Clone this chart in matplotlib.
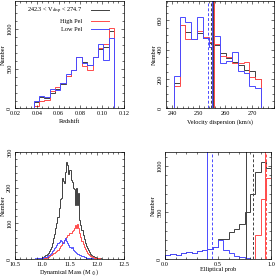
import numpy as np
import matplotlib
matplotlib.use('Agg')
import matplotlib.pyplot as plt
from matplotlib.ticker import MultipleLocator
from matplotlib.lines import Line2D

plt.rcParams['font.family'] = ['Liberation Serif', 'DejaVu Serif']
plt.rcParams['mathtext.fontset'] = 'stix'

# colours of the three samples
c_all, c_high, c_low = '#404040', '#ff4a4a', '#4a4aff'

# --- redshift (15 bins) ---
z_lo, z_hi = 0.037, 0.111
z_all = [80, 150, 128, 200, 250, 313, 408, 483, 645, 590, 545, 641, 748, 768, 975]
z_high = [35, 95, 110, 221, 270, 325, 408, 479, 645, 530, 480, 641, 760, 814, 1008]
z_low = [95, 155, 138, 250, 233, 325, 429, 479, 645, 570, 550, 641, 814, 608, 891]

# --- velocity dispersion (15 bins) ---
v_lo, v_hi = 240.6, 273.3
v_all = [171, 566, 520, 475, 513, 479, 445, 429, 376, 342, 319, 297, 262, 256, 199]
v_high = [153, 566, 475, 475, 525, 484, 449, 440, 358, 349, 308, 308, 319, 217, 199]
v_low = [224, 620, 586, 472, 620, 479, 417, 490, 308, 324, 381, 256, 244, 150, 140]
v_mean = {'all': 255.3, 'high': 255.8, 'low': 254.9}
v_median = {'all': 254.4, 'high': 255.6, 'low': 253.3}

# --- dynamical mass (bins of 0.02 from 10.80) ---
m_lo, m_step = 10.80, 0.02
m_all = [0, 0, 1, 0, 1, 1, 2, 1, 3, 4, 5, 6, 8, 11, 14, 16, 22, 27, 35, 46,
         58, 70, 86, 100, 118, 142, 168, 170, 226, 218, 212, 245, 273, 262, 238, 250, 222, 215, 200, 196,
         152, 198, 150, 185, 108, 95, 80, 66, 56, 45, 37, 30, 24, 19, 15, 12, 9, 7, 6, 4,
         4, 3, 2, 2, 1, 1, 1, 0, 1, 0, 0, 0, 0, 0, 0]
m_high = [0, 0, 0, 0, 0, 0, 0, 0, 1, 1, 2, 2, 3, 4, 5, 6, 8, 10, 12, 14,
          16, 18, 20, 22, 26, 32, 36, 40, 44, 48, 52, 58, 62, 66, 68, 72, 74, 78, 82, 88,
          95, 86, 98, 88, 72, 62, 50, 42, 35, 28, 22, 18, 14, 11, 9, 7, 6, 5, 4, 3,
          3, 2, 2, 1, 1, 1, 1, 0, 1, 0, 0, 0, 0, 0, 0]
m_low = [0, 1, 1, 2, 1, 2, 2, 3, 3, 4, 4, 5, 6, 6, 8, 10, 12, 15, 18, 22,
         26, 30, 34, 38, 44, 48, 54, 50, 46, 44, 52, 58, 50, 46, 40, 34, 30, 35, 26, 22,
         20, 16, 14, 13, 11, 10, 8, 7, 6, 5, 4, 4, 3, 3, 2, 2, 2, 1, 1, 1,
         1, 0, 0, 0, 0, 0, 0, 0, 0, 0, 0, 0, 0, 0, 0]

# --- elliptical probability (20 bins of 0.05) ---
e_low = [42, 49, 42, 60, 78, 67, 88, 102, 110, 131, 201, 102, 60, 32, 18, 7, 3, 1, 0, 0]
e_all = [42, 49, 42, 60, 78, 67, 88, 102, 110, 131, 219, 219, 290, 325, 378, 500, 699, 929, 1043, 972]
e_high = [0, 0, 0, 0, 0, 0, 0, 0, 0, 0, 0, 0, 0, 0, 0, 0, 0, 255, 645, 870]
e_mean = {'all': 0.763, 'high': 0.945, 'low': 0.40}
e_median = {'all': 0.83, 'high': 0.955, 'low': 0.44}

fs = 4.5
lw = 0.7
fig = plt.figure(figsize=(2.75, 2.76), dpi=100)
ax1 = fig.add_axes([0.0545, 0.607, 0.396, 0.389])
ax2 = fig.add_axes([0.6036, 0.607, 0.391, 0.389])
ax3 = fig.add_axes([0.0545, 0.0616, 0.396, 0.388])
ax4 = fig.add_axes([0.600, 0.0616, 0.386, 0.388])


def style(ax, xmaj, xmin, ymaj, ymin):
    ax.xaxis.set_major_locator(MultipleLocator(xmaj))
    ax.xaxis.set_minor_locator(MultipleLocator(xmin))
    ax.yaxis.set_major_locator(MultipleLocator(ymaj))
    ax.yaxis.set_minor_locator(MultipleLocator(ymin))
    ax.tick_params(which='both', direction='in', top=True, right=True,
                   width=0.4, labelsize=fs, pad=2)
    ax.tick_params(which='major', length=2.4)
    ax.tick_params(which='minor', length=1.2)
    for s in ax.spines.values():
        s.set_linewidth(0.5)
    plt.setp(ax.get_yticklabels(), rotation=90, va='center')
    ax.set_ylabel('Number', fontsize=fs, labelpad=1)


def hists(ax, edges, a, h, l):
    ax.stairs(a, edges, color=c_all, lw=lw)
    ax.stairs(h, edges, color=c_high, lw=lw)
    ax.stairs(l, edges, color=c_low, lw=lw)


# redshift
hists(ax1, np.linspace(z_lo, z_hi, len(z_all) + 1), z_all, z_high, z_low)
ax1.set_xlim(0.02, 0.12)
ax1.set_ylim(0, 1350)
style(ax1, 0.02, 0.005, 500, 100)
ax1.set_xlabel('Redshift', fontsize=fs, labelpad=2)
handles = [Line2D([], [], color=c, lw=lw) for c in (c_all, c_high, c_low)]
ax1.legend(handles, [r'242.3 < V$_{\rm disp}$ < 274.7', 'High Pel', 'Low Pel'],
           loc='upper left', bbox_to_anchor=(0.07, 1.0), frameon=False,
           markerfirst=False, fontsize=fs, handlelength=3.0, handletextpad=1.3,
           labelspacing=0.45, borderaxespad=0.3)

# velocity dispersion
hists(ax2, np.linspace(v_lo, v_hi, len(v_all) + 1), v_all, v_high, v_low)
for key, c in (('low', c_low), ('all', c_all), ('high', c_high)):
    ax2.axvline(v_mean[key], color=c, lw=lw)
    ax2.axvline(v_median[key], color=c, lw=lw, ls=(0, (3, 2)))
ax2.set_xlim(237.7, 278)
ax2.set_ylim(0, 730)
style(ax2, 10, 2, 200, 50)
ax2.set_xlabel('Velocity dispersion (km/s)', fontsize=fs, labelpad=2)

# dynamical mass
m_edges = m_lo + m_step * np.arange(len(m_all) + 1)
hists(ax3, m_edges, m_all, m_high, m_low)
ax3.set_xlim(10.5, 12.5)
ax3.set_ylim(0, 300)
style(ax3, 0.5, 0.1, 100, 20)
ax3.set_xlabel(r'Dynamical Mass (M$_\odot$)', fontsize=fs, labelpad=0.5)

# elliptical probability
hists(ax4, np.linspace(0, 1, len(e_all) + 1), e_all, e_high, e_low)
for key, c in (('low', c_low), ('all', c_all), ('high', c_high)):
    ax4.axvline(e_mean[key], color=c, lw=lw)
    ax4.axvline(e_median[key], color=c, lw=lw, ls=(0, (3, 2)))
ax4.set_xlim(0, 1)
ax4.set_ylim(0, 1150)
style(ax4, 0.5, 0.1, 500, 100)
ax4.set_xlabel('Elliptical prob', fontsize=fs, labelpad=0.5)

fig.savefig('out.png', dpi=100)
